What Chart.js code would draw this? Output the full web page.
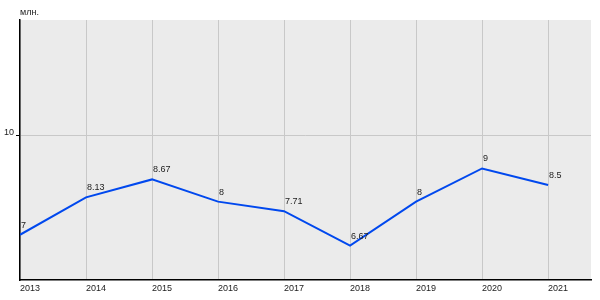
<!DOCTYPE html>
<html>
<head>
<meta charset="utf-8">
<script src="https://cdn.jsdelivr.net/npm/chart.js@4"></script>
<style>
  html, body { margin: 0; padding: 0; background: #fff; }
  #wrap { width: 600px; height: 300px; }
</style>
</head>
<body>
<div id="wrap"><canvas id="chart"></canvas></div>
<script>
// ── Data ──────────────────────────────────────────────────────────────
const years  = [2013, 2014, 2015, 2016, 2017, 2018, 2019, 2020, 2021];
const values = [7, 8.13, 8.67, 8, 7.71, 6.67, 8, 9, 8.5];
const yTicks = [10];
const unitLabel = 'млн.';

const FONT = 'Liberation Sans, Arial, sans-serif';

// grey plot background
const plotBg = {
    id: 'plotBg',
    beforeDraw(chart) {
        const a = chart.chartArea, ctx = chart.ctx;
        ctx.save();
        ctx.fillStyle = '#ebebeb';
        ctx.fillRect(a.left, a.top, a.right - a.left, a.bottom - a.top);
        ctx.restore();
    }
};

// value labels + unit caption
const valueLabels = {
    id: 'valueLabels',
    afterDatasetsDraw(chart) {
        const ctx = chart.ctx;
        const meta = chart.getDatasetMeta(0);
        ctx.save();
        ctx.font = '9px ' + FONT;
        ctx.fillStyle = '#222';
        ctx.textAlign = 'left';
        ctx.textBaseline = 'alphabetic';
        meta.data.forEach(function (pt, i) {
            ctx.fillText(String(values[i]), pt.x + 1, pt.y - 7);
        });
        ctx.textBaseline = 'middle';
        ctx.fillText(unitLabel, chart.chartArea.left, 13);
        ctx.restore();
    }
};

new Chart(document.getElementById('chart'), {
    type: 'line',
    data: {
        datasets: [{
            data: years.map((y, i) => ({ x: y, y: values[i] })),
            borderColor: '#0048ee',
            borderWidth: 2,
            pointRadius: 0,
            tension: 0,
            fill: false
        }]
    },
    options: {
        responsive: true,
        maintainAspectRatio: false,
        animation: false,
        layout: { padding: { top: 20, right: 9, left: 0, bottom: 0 } },
        plugins: {
            legend: { display: false },
            tooltip: { enabled: false }
        },
        scales: {
            x: {
                type: 'linear',
                min: 2013,
                max: 2021.65,
                afterBuildTicks: axis => { axis.ticks = years.map(v => ({ value: v })); },
                afterFit: axis => { axis.height = 20; },
                ticks: {
                    align: 'start',
                    padding: 3,
                    color: '#222',
                    font: { family: FONT, size: 9 },
                    callback: v => String(v)
                },
                grid: { color: '#c8c8c8', drawTicks: false },
                border: { color: '#000', width: 1.5 }
            },
            y: {
                min: 5.635,
                max: 13.48,
                afterBuildTicks: axis => { axis.ticks = yTicks.map(v => ({ value: v })); },
                afterFit: axis => { axis.width = 20; },
                ticks: {
                    padding: 2,
                    labelOffset: -3,
                    color: '#222',
                    font: { family: FONT, size: 9 },
                    callback: v => String(v)
                },
                grid: { color: '#c8c8c8', tickColor: '#000', tickLength: 4 },
                border: { color: '#000', width: 1.5 }
            }
        }
    },
    plugins: [plotBg, valueLabels]
});
</script>
</body>
</html>
